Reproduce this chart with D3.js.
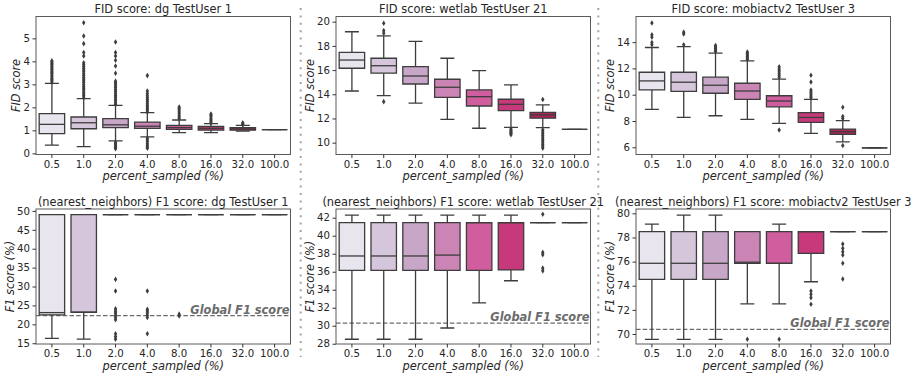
<!DOCTYPE html>
<html>
<head>
<meta charset="utf-8">
<script src="https://cdn.jsdelivr.net/npm/d3@7"></script>
<style>
  body { margin: 0; background: #fff; }
  text { font-family: "DejaVu Sans", sans-serif; fill: #262626; }
</style>
</head>
<body>
<svg id="chart" width="921" height="377"></svg>
<script>
const categories = ['0.5', '1.0', '2.0', '4.0', '8.0', '16.0', '32.0', '100.0'];

// box stats per category: [lower whisker, q1, median, q3, upper whisker]
const fidDgBoxes = [
  [0.36, 0.86, 1.26, 1.73, 3.04],
  [0.29, 1.07, 1.33, 1.58, 2.38],
  [0.54, 1.12, 1.24, 1.51, 2.09],
  [0.72, 1.09, 1.18, 1.36, 1.77],
  [0.9, 1.04, 1.12, 1.22, 1.45],
  [0.9, 1.01, 1.09, 1.17, 1.29],
  [0.97, 1.01, 1.06, 1.12, 1.22],
  [1.03, 1.03, 1.03, 1.03, 1.03]
];
const fidDgOutliers = [
  [3.1, 3.16, 3.22, 3.27, 3.33, 3.4, 3.46, 3.51, 3.57, 3.63, 3.68, 3.74, 3.8, 3.86, 3.91, 3.97, 4.02],
  [2.42, 2.5, 2.58, 2.66, 2.75, 2.83, 2.9, 2.98, 3.07, 3.15, 3.22, 3.3, 3.39, 3.46, 3.55, 3.62, 3.7, 3.78, 3.86, 3.94, 4.23, 4.38, 4.77, 5.1, 5.68],
  [2.12, 2.2, 2.29, 2.36, 2.45, 2.52, 2.6, 2.69, 2.76, 2.85, 2.92, 3.0, 3.08, 3.14, 3.48, 3.8, 4.05, 4.23, 4.38, 4.84, 0.48, 0.42, 0.36, 0.3, 0.25, 0.2],
  [1.8, 1.88, 1.95, 2.03, 2.1, 2.18, 2.26, 2.34, 2.42, 2.5, 2.6, 2.71, 3.38, 0.66, 0.58, 0.5, 0.42, 0.35, 0.28, 0.22],
  [1.5, 1.57, 1.64, 1.72, 1.8, 1.88, 1.95, 2.01],
  [1.32, 1.38, 1.45, 1.52, 1.6, 1.66, 1.71],
  [1.25, 1.29, 1.33],
  []
];

const fidWetlabBoxes = [
  [14.27, 16.15, 16.83, 17.47, 19.17],
  [13.88, 15.74, 16.36, 16.98, 18.82],
  [13.26, 14.85, 15.51, 16.28, 18.38],
  [11.93, 13.75, 14.58, 15.24, 16.98],
  [11.19, 13.03, 13.8, 14.36, 15.95],
  [11.27, 12.64, 13.17, 13.59, 14.77],
  [11.24, 12.02, 12.29, 12.51, 13.12],
  [11.1, 11.1, 11.1, 11.1, 11.1]
];
const fidWetlabOutliers = [
  [],
  [19.87, 19.26, 19.04, 13.39],
  [],
  [],
  [],
  [11.12, 11.02, 10.92, 10.83, 10.74, 10.66],
  [13.57, 11.06, 10.91, 10.76, 10.6, 10.45, 10.31, 10.15, 10.0, 9.84, 9.7, 9.55],
  []
];

const fidMobiBoxes = [
  [8.89, 10.36, 11.05, 11.71, 13.59],
  [8.27, 10.26, 10.95, 11.71, 13.66],
  [8.4, 10.11, 10.72, 11.33, 13.16],
  [8.12, 9.65, 10.28, 10.87, 12.57],
  [7.82, 9.08, 9.52, 9.92, 11.18],
  [7.05, 7.89, 8.27, 8.63, 9.65],
  [6.41, 6.98, 7.18, 7.38, 8.02],
  [5.95, 5.95, 5.95, 5.95, 5.95]
];
const fidMobiOutliers = [
  [13.8, 13.97, 14.38, 14.56, 15.45],
  [13.8, 14.62, 14.76],
  [13.28, 13.4, 13.52, 13.63, 13.74],
  [12.68, 12.79, 12.9, 13.02, 13.13, 13.24],
  [11.33, 11.48, 11.64, 11.8, 11.96, 12.12, 7.31],
  [9.76, 9.9, 10.05, 10.2, 10.36, 10.97, 11.48],
  [8.18, 8.34, 9.04, 6.14],
  []
];

const f1DgBoxes = [
  [16.3, 22.5, 23.1, 49.0, 49.0],
  [16.1, 23.2, 23.2, 49.0, 49.0],
  [49.0, 49.0, 49.0, 49.0, 49.0],
  [49.0, 49.0, 49.0, 49.0, 49.0],
  [49.0, 49.0, 49.0, 49.0, 49.0],
  [49.0, 49.0, 49.0, 49.0, 49.0],
  [49.0, 49.0, 49.0, 49.0, 49.0],
  [49.0, 49.0, 49.0, 49.0, 49.0]
];
const f1DgOutliers = [
  [], [],
  [31.9, 28.8, 24.1, 23.5, 23.0, 22.4, 21.8, 21.2, 17.5, 16.8, 16.1],
  [28.8, 24.0, 23.5, 23.0, 22.4, 21.8, 17.5],
  [22.7, 22.2],
  [], [], []
];

const f1WetlabBoxes = [
  [28.5, 36.15, 37.75, 41.45, 42.3],
  [28.5, 36.15, 37.75, 41.45, 42.3],
  [28.5, 36.15, 37.75, 41.45, 42.3],
  [29.75, 36.15, 37.85, 41.45, 42.3],
  [32.55, 36.15, 41.45, 41.45, 42.3],
  [35.0, 36.2, 41.45, 41.45, 42.3],
  [41.45, 41.45, 41.45, 41.45, 41.45],
  [41.45, 41.45, 41.45, 41.45, 41.45]
];
const f1WetlabOutliers = [
  [], [], [], [], [], [],
  [42.38, 38.15, 37.9, 36.4, 36.1],
  []
];

const f1MobiBoxes = [
  [69.56, 74.53, 75.86, 78.48, 79.11],
  [69.56, 74.53, 75.86, 78.48, 79.86],
  [69.56, 74.53, 75.86, 78.48, 79.86],
  [72.49, 75.86, 75.95, 78.48, 78.48],
  [72.49, 75.86, 75.86, 78.48, 79.11],
  [74.33, 76.69, 78.48, 78.48, 78.48],
  [78.48, 78.48, 78.48, 78.48, 78.48],
  [78.48, 78.48, 78.48, 78.48, 78.48]
];
const f1MobiOutliers = [
  [], [], [],
  [69.56],
  [69.56],
  [73.56, 73.29, 73.01, 72.46],
  [77.46, 77.1, 76.82, 76.55, 75.86, 74.56],
  []
];

const globalF1 = [22.3, 30.3, 70.39];

const fidDgTicks = [0, 1, 2, 3, 4, 5];
const fidWetlabTicks = [10, 12, 14, 16, 18, 20];
const fidMobiTicks = [6, 8, 10, 12, 14];
const f1DgTicks = [15, 20, 25, 30, 35, 40, 45, 50];
const f1WetlabTicks = [28, 30, 32, 34, 36, 38, 40, 42];
const f1MobiTicks = [70, 72, 74, 76, 78, 80];

// seaborn-like PuRd palette, desaturated to 0.75
const puRd = ['#f7f4f9', '#e7e1ef', '#d4b9da', '#c994c7', '#df65b0', '#e7298a', '#ce1256', '#980043', '#67001f'];
const cmap = d3.scaleLinear().domain(d3.range(9).map(i => i / 8)).range(puRd).interpolate(d3.interpolateRgb);
const palette = categories.map((c, i) => {
  const hsl = d3.hsl(cmap((i + 1) / (categories.length + 1)));
  hsl.s *= 0.75;
  return hsl.formatHex();
});

const lineColor = '#3d3d3d';
const svg = d3.select('#chart');
const panelW = 254.5;

const panels = [
  { left: 36, top: 16.5, h: 138, boxes: fidDgBoxes, outliers: fidDgOutliers, domain: [-0.05, 5.95], ticks: fidDgTicks,
    title: 'FID score: dg TestUser 1', ylabel: 'FID score' },
  { left: 336, top: 16.5, h: 138, boxes: fidWetlabBoxes, outliers: fidWetlabOutliers, domain: [9.02, 20.43], ticks: fidWetlabTicks,
    title: 'FID score: wetlab TestUser 21', ylabel: 'FID score' },
  { left: 636, top: 16.5, h: 138, boxes: fidMobiBoxes, outliers: fidMobiOutliers, domain: [5.45, 15.95], ticks: fidMobiTicks,
    title: 'FID score: mobiactv2 TestUser 3', ylabel: 'FID score' },
  { left: 36, top: 209, h: 135, boxes: f1DgBoxes, outliers: f1DgOutliers, domain: [14.8, 50.5], ticks: f1DgTicks,
    title: '(nearest_neighbors) F1 score: dg TestUser 1', ylabel: 'F1 score (%)', global: globalF1[0] },
  { left: 336, top: 209, h: 135, boxes: f1WetlabBoxes, outliers: f1WetlabOutliers, domain: [27.97, 42.97], ticks: f1WetlabTicks,
    title: '(nearest_neighbors) F1 score: wetlab TestUser 21', ylabel: 'F1 score (%)', global: globalF1[1] },
  { left: 636, top: 209, h: 135, boxes: f1MobiBoxes, outliers: f1MobiOutliers, domain: [69.17, 80.36], ticks: f1MobiTicks,
    title: '(nearest_neighbors) F1 score: mobiactv2 TestUser 3', ylabel: 'F1 score (%)', global: globalF1[2] }
];

// dotted separators between columns
[300.7, 598.3].forEach(sx => {
  svg.append('line')
    .attr('x1', sx).attr('x2', sx)
    .attr('y1', 8).attr('y2', 357)
    .style('stroke', '#a3a3a3')
    .style('stroke-width', 2)
    .style('stroke-dasharray', '2,5.4');
});

const diamond = 'M0,-2.8L1.7,0L0,2.8L-1.7,0Z';

function drawPanel(p) {
  const g = svg.append('g');
  const bottom = p.top + p.h;
  const right = p.left + panelW;

  const x = d3.scaleBand().domain(categories).range([p.left, right]);
  const y = d3.scaleLinear().domain(p.domain).range([bottom, p.top]);
  const bw = x.bandwidth() * 0.8;
  const capW = bw * 0.55;

  const stats = p.boxes.map((b, i) => ({
    cat: categories[i], lo: b[0], q1: b[1], med: b[2], q3: b[3], hi: b[4],
    color: palette[i], out: p.outliers[i]
  }));

  // global F1 reference line goes under the boxes
  if (p.global !== undefined) {
    g.append('line')
      .attr('x1', p.left).attr('x2', right)
      .attr('y1', y(p.global)).attr('y2', y(p.global))
      .style('stroke', '#6b6b6b')
      .style('stroke-width', 1.3)
      .style('stroke-dasharray', '4.5,2.2');
  }

  const box = g.selectAll('g.box').data(stats).enter().append('g').classed('box', true);

  box.append('path')
    .attr('d', d => {
      const cx = x(d.cat) + x.bandwidth() / 2;
      return `M${cx},${y(d.q1)}V${y(d.lo)}M${cx},${y(d.q3)}V${y(d.hi)}` +
        `M${cx - capW / 2},${y(d.lo)}H${cx + capW / 2}M${cx - capW / 2},${y(d.hi)}H${cx + capW / 2}`;
    })
    .style('stroke', lineColor)
    .style('stroke-width', 1.3)
    .style('fill', 'none');

  box.append('path')
    .attr('d', d => {
      const x0 = x(d.cat) + (x.bandwidth() - bw) / 2;
      return `M${x0},${y(d.q3)}H${x0 + bw}V${y(d.q1)}H${x0}Z`;
    })
    .style('fill', d => d.color)
    .style('stroke', lineColor)
    .style('stroke-width', 1.3);

  box.append('line')
    .attr('x1', d => x(d.cat) + (x.bandwidth() - bw) / 2)
    .attr('x2', d => x(d.cat) + (x.bandwidth() + bw) / 2)
    .attr('y1', d => y(d.med)).attr('y2', d => y(d.med))
    .style('stroke', lineColor)
    .style('stroke-width', 1.3);

  box.selectAll('path.flier')
    .data(d => d.out.map(v => ({ cat: d.cat, v })))
    .enter().append('path')
    .classed('flier', true)
    .attr('d', diamond)
    .attr('transform', d => `translate(${x(d.cat) + x.bandwidth() / 2},${y(d.v)})`)
    .style('fill', lineColor);

  // frame
  g.append('rect')
    .attr('x', p.left).attr('y', p.top)
    .attr('width', panelW).attr('height', p.h)
    .style('fill', 'none')
    .style('stroke', '#5a5a5a')
    .style('stroke-width', 1);

  const yAxis = g.append('g')
    .attr('transform', `translate(${p.left},0)`)
    .call(d3.axisLeft(y).tickValues(p.ticks).tickSize(3.5).tickPadding(2.5).tickFormat(d3.format('d')));
  const xAxis = g.append('g')
    .attr('transform', `translate(0,${bottom})`)
    .call(d3.axisBottom(x).tickSize(3.5).tickPadding(2.5));

  [yAxis, xAxis].forEach(a => {
    a.select('.domain').remove();
    a.selectAll('line').style('stroke', '#333');
    a.selectAll('text').style('font-size', '10.2px').style('fill', '#262626')
      .style('font-family', '"DejaVu Sans", sans-serif');
  });

  let maxW = 0;
  yAxis.selectAll('text').each(function () { maxW = Math.max(maxW, this.getComputedTextLength()); });
  const labelX = p.left - 3.5 - 2.5 - maxW - 3 - 4.5;

  g.append('text')
    .attr('transform', `translate(${labelX},${(p.top + bottom) / 2}) rotate(-90)`)
    .attr('text-anchor', 'middle')
    .attr('dy', '0.35em')
    .style('font-size', '11.4px')
    .style('font-style', 'italic')
    .text(p.ylabel);

  g.append('text')
    .attr('x', (p.left + right) / 2)
    .attr('y', bottom + 25.5)
    .attr('text-anchor', 'middle')
    .style('font-size', '11.4px')
    .style('font-style', 'italic')
    .text('percent_sampled (%)');

  g.append('text')
    .attr('x', (p.left + right) / 2)
    .attr('y', p.top - 3.5)
    .attr('text-anchor', 'middle')
    .style('font-size', '11.4px')
    .text(p.title);

  if (p.global !== undefined) {
    g.append('text')
      .attr('x', right - 1)
      .attr('y', y(p.global) - 2)
      .attr('text-anchor', 'end')
      .style('font-size', '11.4px')
      .style('font-weight', 'bold')
      .style('font-style', 'italic')
      .style('fill', '#6b6b6b')
      .text('Global F1 score');
  }
}

panels.forEach(drawPanel);
</script>
</body>
</html>
